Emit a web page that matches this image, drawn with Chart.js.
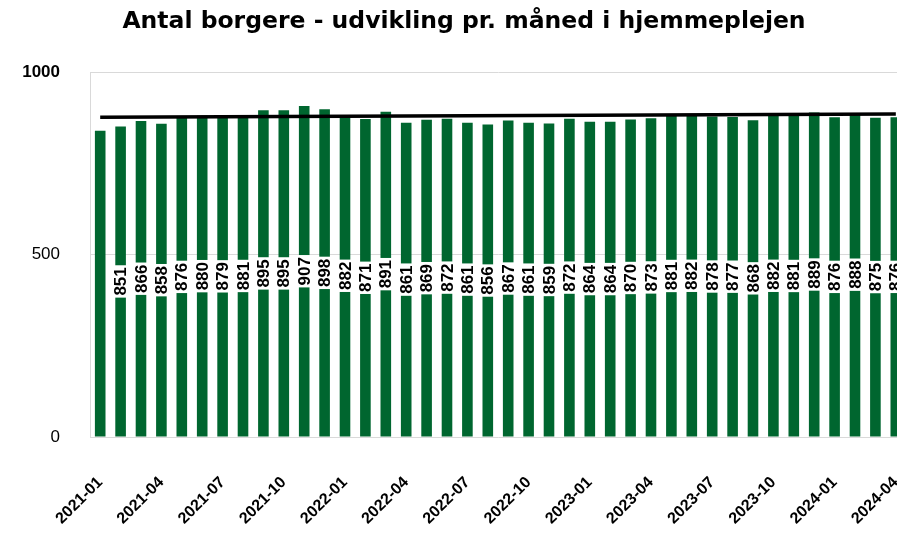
<!DOCTYPE html>
<html>
<head>
<meta charset="utf-8">
<title>Antal borgere</title>
<script src="https://cdn.jsdelivr.net/npm/chart.js@4.4.1/dist/chart.umd.min.js"></script>
<style>
  html, body { margin: 0; padding: 0; background: #fff; overflow: hidden; }
  #wrap { width: 897px; height: 535px; overflow: hidden; }
</style>
</head>
<body>
<div id="wrap">
  <canvas id="chart" width="926" height="535"></canvas>
</div>
<script>
// months shown on the x axis
const months = [
  '2021-01', '2021-02', '2021-03', '2021-04', '2021-05', '2021-06', '2021-07', '2021-08', '2021-09', '2021-10', '2021-11', '2021-12',
  '2022-01', '2022-02', '2022-03', '2022-04', '2022-05', '2022-06', '2022-07', '2022-08', '2022-09', '2022-10', '2022-11', '2022-12',
  '2023-01', '2023-02', '2023-03', '2023-04', '2023-05', '2023-06', '2023-07', '2023-08', '2023-09', '2023-10', '2023-11', '2023-12',
  '2024-01', '2024-02', '2024-03', '2024-04'
];

// number of citizens per month
const citizens = [
  839, 851, 866, 858, 876, 880, 879, 881, 895, 895, 907, 898,
  882, 871, 891, 861, 869, 872, 861, 856, 867, 861, 859, 872,
  864, 864, 870, 873, 881, 882, 878, 877, 868, 882, 881, 889,
  876, 888, 875, 876
];

// trend line end points
const trendMonths = ['2021-01', '2024-04'];
const trendValues = [876, 885];

const yTicks = [0, 500, 1000];

const FONT = "'Liberation Sans', Arial, sans-serif";
const TITLE_FONT = "'DejaVu Sans', Verdana, sans-serif";

// draws the rotated value labels in the middle of each bar
const barLabels = {
  id: 'barLabels',
  afterDatasetsDraw(chart) {
    const meta = chart.getDatasetMeta(0);
    const ctx = chart.ctx;
    ctx.save();
    ctx.font = 'bold 17px ' + FONT;
    ctx.textAlign = 'center';
    ctx.textBaseline = 'middle';
    meta.data.forEach((bar, i) => {
      if (i === 0) return; // first month has no label in the original
      const text = String(citizens[i]);
      const cy = (bar.y + bar.base) / 2;
      const w = ctx.measureText(text).width;
      ctx.save();
      ctx.translate(bar.x, cy);
      ctx.rotate(-Math.PI / 2);
      ctx.fillStyle = '#ffffff';
      ctx.fillRect(-w / 2 - 2, -7, w + 4, 14);
      ctx.fillStyle = '#000000';
      ctx.fillText(text, 0, 1);
      ctx.restore();
    });
    ctx.restore();
  }
};

new Chart(document.getElementById('chart'), {
  type: 'bar',
  data: {
    labels: months,
    datasets: [
      {
        type: 'bar',
        data: citizens,
        backgroundColor: '#00662f',
        barPercentage: 0.52,
        categoryPercentage: 1.0,
        order: 1
      },
      {
        type: 'line',
        data: trendMonths.map((m, i) => ({ x: m, y: trendValues[i] })),
        borderColor: '#000000',
        borderWidth: 3.5,
        pointRadius: 0,
        fill: false,
        order: 0
      }
    ]
  },
  options: {
    responsive: false,
    devicePixelRatio: 1,
    animation: false,
    layout: { padding: { left: 22, right: 20, top: 0, bottom: 6 } },
    plugins: {
      legend: { display: false },
      tooltip: { enabled: false },
      title: {
        display: true,
        text: 'Antal borgere - udvikling pr. måned i hjemmeplejen',
        color: '#000000',
        font: { family: TITLE_FONT, size: 23.5, weight: 'bold' },
        padding: { top: 8, bottom: 35.8 }
      }
    },
    scales: {
      x: {
        grid: { display: false, drawTicks: false },
        border: { display: false },
        afterFit: (scale) => {
          scale.height = 92;
          scale.paddingLeft = 0;
          scale.paddingRight = 0;
        },
        ticks: {
          autoSkip: false,
          maxRotation: 45,
          minRotation: 45,
          padding: 36,
          color: '#000000',
          font: { family: FONT, size: 16, weight: 'bold' },
          callback: (val, i) => (i % 3 === 0 ? months[i] : '')
        }
      },
      y: {
        min: 0,
        max: 1000,
        afterBuildTicks: (scale) => { scale.ticks = yTicks.map(v => ({ value: v })); },
        afterFit: (scale) => { scale.width = 68; },
        grid: { color: '#d9d9d9', lineWidth: 1, drawTicks: false },
        border: { display: true, color: '#d9d9d9' },
        ticks: {
          padding: 30,
          color: '#000000',
          callback: (v) => String(v),
          font: (c) => ({ family: FONT, size: 17, weight: c.tick && c.tick.value === 1000 ? 'bold' : 'normal' })
        }
      }
    }
  },
  plugins: [barLabels]
});
</script>
</body>
</html>
